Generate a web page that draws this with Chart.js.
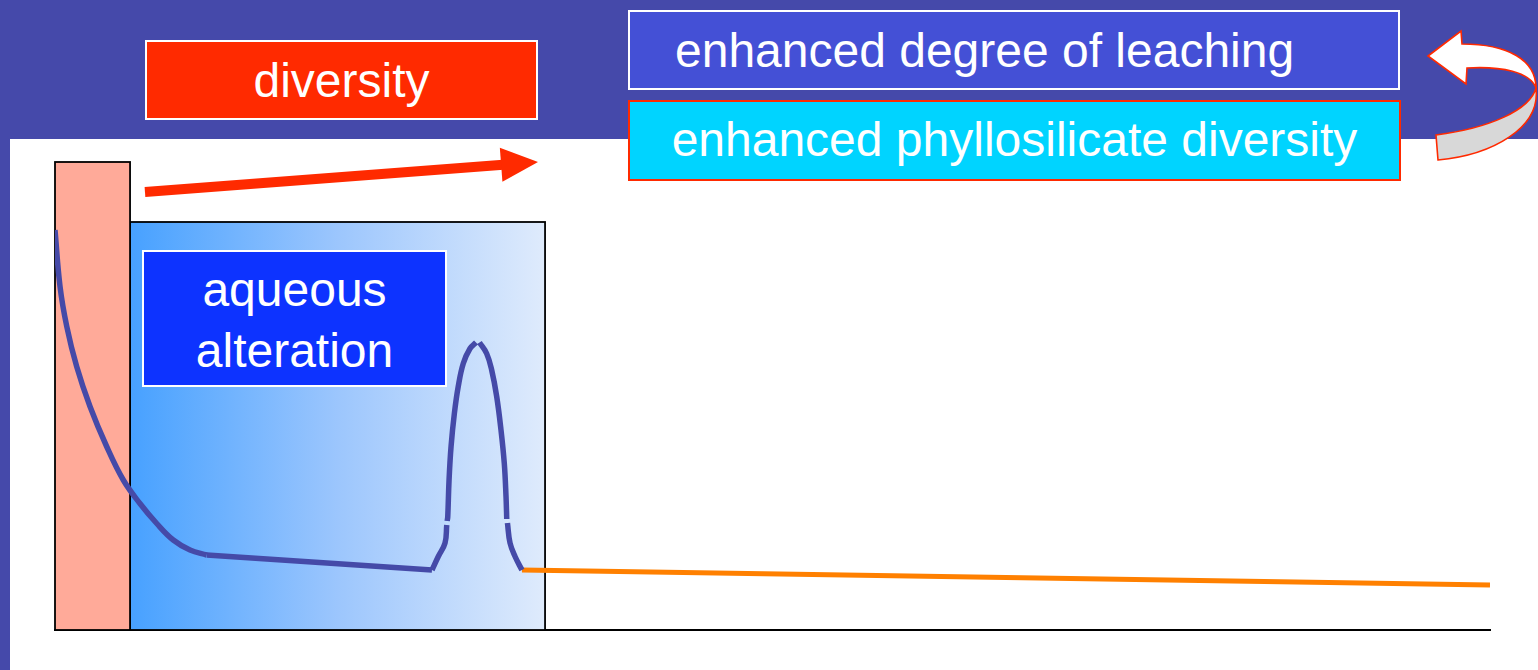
<!DOCTYPE html>
<html>
<head>
<meta charset="utf-8">
<script src="https://cdn.jsdelivr.net/npm/chart.js@4.4.1/dist/chart.umd.min.js"></script>
<style>
  html, body { margin: 0; padding: 0; background: #ffffff; overflow: hidden; }
  #band { position: absolute; left: 0; top: 0; width: 1538px; height: 139px; background: #4549aa; z-index: 0; }
  #strip { position: absolute; left: 0; top: 0; width: 10px; height: 670px; background: #4549aa; z-index: 0; }
  #chart { position: absolute; left: 0; top: 0; z-index: 1; }
  .box {
    position: absolute; box-sizing: border-box; z-index: 2;
    font-family: 'Liberation Sans', Arial, sans-serif; font-size: 48px; line-height: 48px;
    color: #ffffff; white-space: nowrap;
  }
  #diversity { left: 145px; top: 40px; width: 393px; height: 80px; border: 2px solid #ffffff; background: #ff2a00; padding-top: 15px; text-align: center; }
  #leaching { left: 628px; top: 10px; width: 772px; height: 80px; border: 2px solid #ffffff; background: #4450d6; padding-top: 15px; padding-left: 45px; }
  #phyllo { left: 628px; top: 100px; width: 773px; height: 81px; border: 2px solid #ff2a00; background: #00d4ff; padding-top: 14px; text-align: center; }
  #aqueous { left: 142px; top: 250px; width: 305px; height: 137px; border: 2px solid #ffffff; background: #0d33ff; padding-top: 7px; line-height: 61px; text-align: center; }
</style>
</head>
<body>
<div id="band"></div>
<div id="strip"></div>
<canvas id="chart" width="1538" height="670"></canvas>
<div class="box" id="diversity">diversity</div>
<div class="box" id="leaching">enhanced degree of leaching</div>
<div class="box" id="phyllo">enhanced phyllosilicate diversity</div>
<div class="box" id="aqueous">aqueous<br>alteration</div>
<script>
'use strict';
// schematic units: x 0..100 along the time axis, y 0..100 up the plot
// early decay, through the pink column into the blue block
var decayX = [0, 0.35, 0.82, 1.51, 2.44, 3.6, 4.76, 5.92, 7.09, 8.24, 9.41, 10.57];
var decayY = [80, 68.7, 60.7, 52.7, 44.7, 36.7, 30, 25.3, 21.3, 18, 16, 15];
// slow straight fall across the block
var flatX = [10.57, 26.27];
var flatY = [15, 12];
// the narrow peak (nulls are the small breaks in the drawn line)
var peakX = [26.27, 26.71, 27.18, 27.3, 27.31, 27.33, 27.37, 27.46, 27.6, 27.83, 28.1, 28.45, 28.92, 29.34,
  29.46, 29.58, 30.08, 30.43, 30.78, 31.08, 31.31, 31.43, 31.48, 31.5, 31.53, 31.71, 32.06, 32.54];
var peakY = [12, 14.7, 17.4, 21, null, 21.8, 22.7, 30, 36.7, 43.3, 48.7, 53.3, 56.3, 57.5,
  null, 57.5, 55.3, 52, 46.7, 40, 33.3, 26.7, 22.2, null, 21.4, 17.4, 14.7, 12];
// long slow tail
var tailX = [32.54, 100];
var tailY = [12, 9];

// stages: pink diversity column, then the aqueous alteration block
var stageStart = [0, 5.23];
var stageEnd = [5.23, 34.15];
var stageTop = [93.6, 81.6];

// red trend arrow (from / to)
var trendX = [6.27, 33.66];
var trendY = [87.6, 93.6];

function toPoints(xs, ys){
  var pts = [];
  for (var i = 0; i < xs.length; i++){
    pts.push({x: xs[i], y: ys[i]});
  }
  return pts;
}

var sketchPlugin = {
  id: 'sketch',
  beforeDatasetsDraw: function(chart){
    var ctx = chart.ctx;
    var sx = chart.scales.x;
    var sy = chart.scales.y;
    ctx.save();
    // aqueous alteration block (gradient)
    var l = sx.getPixelForValue(stageStart[1]);
    var r = sx.getPixelForValue(stageEnd[1]);
    var t = sy.getPixelForValue(stageTop[1]);
    var b = sy.getPixelForValue(0);
    var grad = ctx.createLinearGradient(l, 0, r, 0);
    grad.addColorStop(0, '#47a1ff');
    grad.addColorStop(0.5, '#9cc6fd');
    grad.addColorStop(1, '#dfebfc');
    ctx.fillStyle = grad;
    ctx.fillRect(l, t, r - l, b - t);
    ctx.strokeStyle = '#000000';
    ctx.lineWidth = 1.8;
    ctx.strokeRect(l, t, r - l, b - t);
    // pink column
    l = sx.getPixelForValue(stageStart[0]);
    r = sx.getPixelForValue(stageEnd[0]);
    t = sy.getPixelForValue(stageTop[0]);
    ctx.fillStyle = '#ffaa99';
    ctx.fillRect(l, t, r - l, b - t);
    ctx.strokeRect(l, t, r - l, b - t);
    // red arrow
    var x0 = sx.getPixelForValue(trendX[0]), y0 = sy.getPixelForValue(trendY[0]);
    var x1 = sx.getPixelForValue(trendX[1]), y1 = sy.getPixelForValue(trendY[1]);
    var len = Math.sqrt((x1 - x0) * (x1 - x0) + (y1 - y0) * (y1 - y0));
    var ux = (x1 - x0) / len, uy = (y1 - y0) / len;
    var hx = x1 - ux * 37, hy = y1 - uy * 37;
    ctx.strokeStyle = '#ff2a00';
    ctx.lineWidth = 10;
    ctx.lineCap = 'butt';
    ctx.beginPath();
    ctx.moveTo(x0, y0);
    ctx.lineTo(hx + ux * 2, hy + uy * 2);
    ctx.stroke();
    ctx.fillStyle = '#ff2a00';
    ctx.beginPath();
    ctx.moveTo(x1, y1);
    ctx.lineTo(hx - uy * 17, hy + ux * 17);
    ctx.lineTo(hx + uy * 17, hy - ux * 17);
    ctx.closePath();
    ctx.fill();
    ctx.restore();
  },
  afterDraw: function(chart){
    // curved ribbon arrow in the header
    var ctx = chart.ctx;
    ctx.save();
    ctx.strokeStyle = '#ff2a00';
    ctx.lineWidth = 1.6;
    ctx.lineJoin = 'miter';
    ctx.fillStyle = '#d8d8d8';
    ctx.beginPath();
    ctx.moveTo(1536, 88);
    ctx.bezierCurveTo(1541, 128, 1492, 155, 1438, 160);
    ctx.lineTo(1436, 135);
    ctx.bezierCurveTo(1490, 128, 1530, 110, 1536, 88);
    ctx.closePath();
    ctx.fill();
    ctx.stroke();
    ctx.fillStyle = '#ffffff';
    ctx.beginPath();
    ctx.moveTo(1428, 56);
    ctx.lineTo(1461, 31);
    ctx.lineTo(1462, 44);
    ctx.bezierCurveTo(1508, 44, 1536, 60, 1536, 88);
    ctx.bezierCurveTo(1530, 72, 1502, 66, 1467, 68);
    ctx.lineTo(1466, 84);
    ctx.closePath();
    ctx.fill();
    ctx.stroke();
    ctx.restore();
  }
};

var lineStyle = {
  borderColor: '#454aa8',
  borderWidth: 5.5,
  tension: 0.4,
  borderCapStyle: 'butt',
  borderJoinStyle: 'round',
  pointRadius: 0
};

var ctx = document.getElementById('chart');
var myChart = new Chart(ctx, {
  type: 'line',
  data: {
    datasets: [
      Object.assign({label: 'decay', data: toPoints(decayX, decayY)}, lineStyle),
      Object.assign({label: 'flat', data: toPoints(flatX, flatY)}, lineStyle),
      Object.assign({label: 'peak', data: toPoints(peakX, peakY)}, lineStyle),
      {
        label: 'tail',
        data: toPoints(tailX, tailY),
        borderColor: '#ff8000',
        borderWidth: 5,
        tension: 0,
        borderCapStyle: 'butt',
        pointRadius: 0
      }]
  },
  options: {
    responsive: false,
    animation: false,
    spanGaps: false,
    layout: { padding: { left: 55, right: 48, top: 130, bottom: 32 } },
    scales: {
      x: {
        type: 'linear', min: 0, max: 100,
        grid: { display: false },
        ticks: { display: false },
        border: { display: true, color: '#000000', width: 2 }
      },
      y: { type: 'linear', min: 0, max: 100, display: false }
    },
    plugins: { legend: { display: false }, tooltip: { enabled: false } }
  },
  plugins: [sketchPlugin]
});
</script>
</body>
</html>
